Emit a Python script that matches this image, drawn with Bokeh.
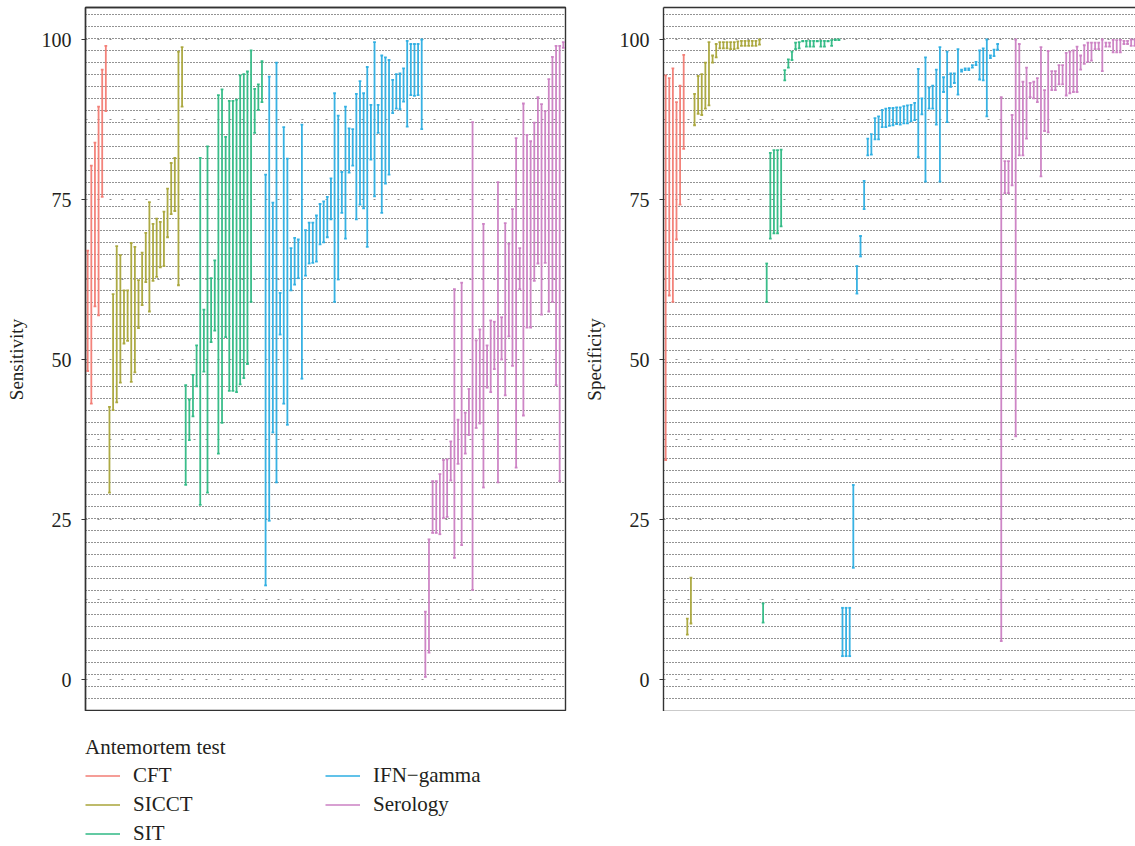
import numpy as np
from bokeh.plotting import figure
from bokeh.models import (Range1d, LinearAxis, FixedTicker, Grid, Legend, LegendItem,
                          ColumnDataSource)
from bokeh.layouts import column, row
from bokeh.transform import dodge
from bokeh.embed import file_html
from bokeh.resources import INLINE

# ---------------- data ----------------
tests = ["CFT", "SICCT", "SIT", "IFN\u2212gamma", "Serology"]
colors = ["#F27C74", "#A9A53A", "#2FB984", "#2DAEE2", "#CB80C3"]
group_sizes = [6, 21, 22, 44, 39]

# Sensitivity (left panel): upper / lower CI limits per study, ordered within test
sens_upper_cft = [67.0, 80.3, 83.9, 89.5, 95.3, 99.0]
sens_lower_cft = [48.2, 43.1, 58.3, 56.9, 75.4, 88.8]
sens_upper_sicct = [42.6, 60.2, 67.7, 66.3, 60.8, 60.8, 68.2, 67.6, 62.4, 66.7, 69.8,
                    74.6, 71.2, 72.0, 71.5, 73.1, 76.7, 80.7, 81.5, 98.1, 98.8]
sens_lower_sicct = [29.2, 42.1, 43.3, 46.4, 52.5, 52.9, 46.5, 48.0, 54.9, 58.5, 62.1,
                    57.5, 62.3, 62.9, 64.4, 64.6, 69.1, 72.7, 73.2, 61.6, 89.5]
sens_upper_sit = [46.0, 43.75, 47.6, 52.2, 81.5, 57.8, 83.3, 62.7, 65.5, 91.3, 92.2,
                  84.8, 90.4, 90.4, 90.6, 94.4, 94.6, 95.0, 98.3, 92.3, 93.0, 96.6]
sens_lower_sit = [30.4, 37.4, 41.1, 45.8, 27.3, 48.1, 29.2, 52.7, 54.5, 35.3, 40.1,
                  53.5, 45.1, 45.1, 44.9, 46.1, 47.1, 49.3, 59.0, 85.4, 89.0, 90.2]
sens_upper_ifn = [78.9, 94.2, 74.5, 96.4, 60.4, 86.3, 81.4, 67.4, 69.0, 68.75, 86.7,
                  70.2, 71.4, 71.4, 72.5, 74.3, 74.7, 75.4, 78.3, 91.6, 88.1, 79.3,
                  89.5, 86.1, 86.0, 91.5, 93.5, 91.6, 95.7, 89.8, 99.6, 89.8, 97.5,
                  97.2, 96.8, 93.7, 94.6, 94.7, 95.5, 99.8, 99.3, 99.3, 99.3, 100.0]
sens_lower_ifn = [14.7, 24.8, 38.6, 30.8, 53.9, 43.1, 39.8, 60.8, 61.7, 62.7, 47.0,
                  63.1, 65.0, 65.1, 65.3, 68.0, 68.3, 69.1, 71.9, 59.0, 62.5, 72.9,
                  68.9, 79.2, 80.3, 71.9, 74.2, 73.6, 67.6, 81.25, 75.5, 85.4, 72.9,
                  77.5, 78.9, 88.5, 89.2, 89.1, 90.3, 86.4, 91.3, 91.2, 91.3, 86.0]
sens_upper_ser = [10.6, 21.9, 31.0, 31.0, 32.1, 34.3, 34.4, 37.2, 61.0, 40.6, 62.0,
                  41.7, 45.4, 87.1, 53.0, 54.7, 71.2, 52.2, 56.1, 55.9, 77.7, 56.6,
                  71.3, 68.1, 73.5, 84.6, 67.4, 90.0, 85.1, 84.1, 87.0, 91.0, 89.9,
                  88.8, 93.8, 97.3, 99.0, 99.0, 99.6]
sens_lower_ser = [0.4, 4.2, 22.9, 22.9, 22.7, 25.2, 25.4, 31.1, 19.0, 33.7, 21.0,
                  35.3, 38.2, 14.0, 39.3, 40.0, 30.0, 45.6, 44.9, 48.5, 30.8, 50.0,
                  44.4, 53.6, 49.0, 33.1, 61.0, 41.25, 55.0, 55.0, 62.3, 65.0, 57.0,
                  65.1, 57.5, 59.0, 46.0, 31.0, 98.7]

# Specificity (right panel)
spec_upper_cft = [94.4, 93.95, 95.5, 90.2, 92.8, 97.6]
spec_lower_cft = [34.3, 60.0, 59.0, 68.75, 74.2, 82.9]
spec_upper_sicct = [9.5, 15.9, 91.5, 94.3, 94.6, 96.4, 99.6, 97.5, 99.3, 99.6, 99.6,
                    99.6, 99.6, 99.6, 99.7, 99.8, 99.8, 99.8, 99.8, 99.8, 100.0]
spec_lower_sicct = [7.0, 8.75, 86.6, 88.4, 88.2, 89.2, 89.7, 96.4, 97.2, 98.6, 98.6,
                    98.6, 98.5, 98.5, 98.6, 99.0, 99.0, 99.0, 99.0, 99.0, 99.2]
spec_upper_sit = [11.9, 65.0, 82.3, 82.7, 82.7, 82.8, 95.2, 96.9, 98.1, 99.5, 99.6,
                  99.8, 99.8, 99.8, 99.8, 99.8, 99.8, 99.8, 99.8, 99.9, 100.0, 100.0]
spec_lower_sit = [8.9, 59.0, 68.9, 69.7, 69.7, 70.8, 93.6, 95.6, 96.8, 98.5, 98.6,
                  99.7, 98.9, 98.9, 98.9, 99.7, 98.9, 98.9, 99.7, 99.0, 99.9, 99.9]
spec_upper_ifn = [11.2, 11.2, 11.2, 30.4, 64.6, 69.3, 77.9, 84.5, 85.2, 87.7, 88.0,
                  89.0, 89.2, 89.3, 89.3, 89.4, 89.4, 89.6, 89.7, 89.8, 90.1, 95.4,
                  90.8, 97.2, 92.5, 92.8, 95.3, 98.8, 94.1, 98.1, 94.7, 94.7, 98.5,
                  95.3, 95.5, 95.5, 96.0, 96.5, 98.3, 98.6, 100.0, 97.5, 98.4, 99.3]
spec_lower_ifn = [3.65, 3.65, 3.65, 17.45, 60.3, 66.1, 73.5, 81.9, 82.0, 84.4, 84.4,
                  86.3, 86.3, 86.5, 86.6, 86.8, 86.7, 86.9, 86.9, 87.2, 87.4, 81.6,
                  88.3, 77.8, 89.2, 89.2, 86.7, 77.8, 91.8, 87.1, 92.6, 93.2, 91.4,
                  95.0, 95.2, 95.2, 95.6, 96.0, 93.75, 93.6, 88.0, 97.1, 97.4, 98.4]
spec_upper_ser = [91.0, 81.0, 81.0, 88.2, 100.0, 99.3, 93.4, 95.6, 93.2, 93.4, 93.95,
                  98.8, 92.1, 98.2, 95.05, 95.05, 96.0, 96.0, 97.9, 98.1, 98.3, 98.9,
                  97.5, 99.1, 99.5, 99.5, 99.5, 99.5, 100.0, 99.5, 99.5, 99.95, 99.9,
                  99.95, 99.8, 99.8, 100.0, 100.0, 100.0]
spec_lower_ser = [6.0, 76.0, 76.0, 77.2, 38.0, 81.9, 81.9, 84.5, 91.0, 90.8, 90.2,
                  78.6, 85.7, 85.5, 92.1, 92.1, 93.0, 93.0, 91.25, 91.6, 91.8, 91.8,
                  95.3, 96.2, 96.5, 96.7, 98.5, 98.5, 95.05, 98.9, 98.9, 98.0, 98.0,
                  98.0, 99.3, 99.3, 99.0, 99.0, 99.0]

sens_upper = [sens_upper_cft, sens_upper_sicct, sens_upper_sit, sens_upper_ifn, sens_upper_ser]
sens_lower = [sens_lower_cft, sens_lower_sicct, sens_lower_sit, sens_lower_ifn, sens_lower_ser]
spec_upper = [spec_upper_cft, spec_upper_sicct, spec_upper_sit, spec_upper_ifn, spec_upper_ser]
spec_lower = [spec_lower_cft, spec_lower_sicct, spec_lower_sit, spec_lower_ifn, spec_lower_ser]

y_major = [0, 25, 50, 75, 100]
y_minor = [12.5, 37.5, 62.5, 87.5]

# ---------------- styling ----------------
FONT = "Liberation Serif"
N = sum(group_sizes)
starts = np.cumsum([0] + group_sizes[:-1])
dense_lines = [105.73 - 1.875 * k for k in range(1, 59)]


def make_panel(uppers, lowers, label, width, left, right, xmax):
    p = figure(width=width, height=711, x_range=Range1d(-0.6, xmax),
               y_range=Range1d(-5, 105), output_backend="svg", toolbar_location=None,
               min_border_left=left, min_border_right=right, min_border_top=7,
               min_border_bottom=0, x_axis_location=None)
    p.outline_line_color = None
    p.background_fill_color = "white"
    p.border_fill_color = "white"
    p.xgrid.visible = False
    yax = p.yaxis[0]
    yax.ticker = FixedTicker(ticks=y_major, minor_ticks=y_minor)
    yax.axis_line_color = "#333333"
    yax.axis_line_width = 1.4
    yax.major_tick_line_color = "#333333"
    yax.major_tick_line_width = 1.2
    yax.major_tick_in = 0
    yax.major_tick_out = 4
    yax.minor_tick_line_color = None
    yax.major_label_text_font = FONT
    yax.major_label_text_font_size = "20px"
    yax.major_label_text_color = "#231f20"
    yax.major_label_standoff = 10
    yax.axis_label = label
    yax.axis_label_text_font = FONT
    yax.axis_label_text_font_size = "19px"
    yax.axis_label_text_font_style = "normal"
    yax.axis_label_text_color = "#231f20"
    yax.axis_label_standoff = 12

    g = p.ygrid[0]
    g.grid_line_color = "#8c8c8c"
    g.grid_line_dash = "2 10"
    g.grid_line_width = 1.2
    g.minor_grid_line_color = "#8c8c8c"
    g.minor_grid_line_dash = "2 10"
    g.minor_grid_line_width = 1.2

    dense = Grid(dimension=1, ticker=FixedTicker(ticks=dense_lines),
                 grid_line_color="#000000", grid_line_dash="1 2", grid_line_width=1,
                 grid_line_alpha=0.85)
    p.add_layout(dense)

    for side in ("above", "below"):
        ax = LinearAxis(ticker=FixedTicker(ticks=[]), axis_line_color="#333333",
                        axis_line_width=1.4, major_tick_line_color=None,
                        minor_tick_line_color=None, major_label_standoff=0,
                        major_label_text_font_size="0px")
        p.add_layout(ax, side)

    for gi in range(len(tests)):
        n = group_sizes[gi]
        x = list(range(starts[gi], starts[gi] + n))
        src = ColumnDataSource(dict(x=x, upper=uppers[gi], lower=lowers[gi]))
        kw = dict(source=src, line_color=colors[gi], line_width=1.8, line_alpha=0.95)
        p.segment(x0="x", y0="lower", x1="x", y1="upper", **kw)
        p.segment(x0=dodge("x", -0.38), x1=dodge("x", 0.38), y0="upper", y1="upper", **kw)
        p.segment(x0=dodge("x", -0.38), x1=dodge("x", 0.38), y0="lower", y1="lower", **kw)
    return p


p1 = make_panel(sens_upper, sens_lower, "Sensitivity", 580, 85, 15, N - 0.4)
p2 = make_panel(spec_upper, spec_lower, "Specificity", 555, 80, 0, 130.2)
# full box for left panel
p1.outline_line_color = "#333333"
p1.outline_line_width = 1.4

# ---------------- legend (own strip under the panels) ----------------
lg = figure(width=1135, height=135, x_range=Range1d(0, 1), y_range=Range1d(0, 1),
            output_backend="svg", toolbar_location=None, min_border_left=85,
            min_border_right=0, min_border_top=24, min_border_bottom=0,
            x_axis_location=None, y_axis_location=None)
lg.outline_line_color = None
lg.grid.visible = False
legend_renderers = []
for gi in range(len(tests)):
    # off-range dummy line, only used for the legend key
    r = lg.line(x=[-5, -4], y=[-5, -4], line_color=colors[gi], line_width=1.6)
    legend_renderers.append(r)

common = dict(margin=0, padding=0, spacing=4, glyph_width=35, glyph_height=21,
              label_height=21, label_standoff=13, border_line_color=None,
              background_fill_alpha=0, label_text_font=FONT, label_text_font_size="21px",
              label_text_color="#231f20")
legA = Legend(items=[LegendItem(label=tests[i], renderers=[legend_renderers[i]]) for i in (0, 1, 2)],
              location="top_left", title="Antemortem test", title_text_font=FONT,
              title_text_font_size="21px", title_text_font_style="normal",
              title_text_color="#231f20", title_standoff=3, **common)
legB = Legend(items=[LegendItem(label=tests[i], renderers=[legend_renderers[i]]) for i in (3, 4)],
              location=(240, 29), **common)
lg.add_layout(legA)
lg.add_layout(legB)

layout = column(row(p1, p2), lg)
open("out.html", "w").write(file_html(layout, INLINE))
